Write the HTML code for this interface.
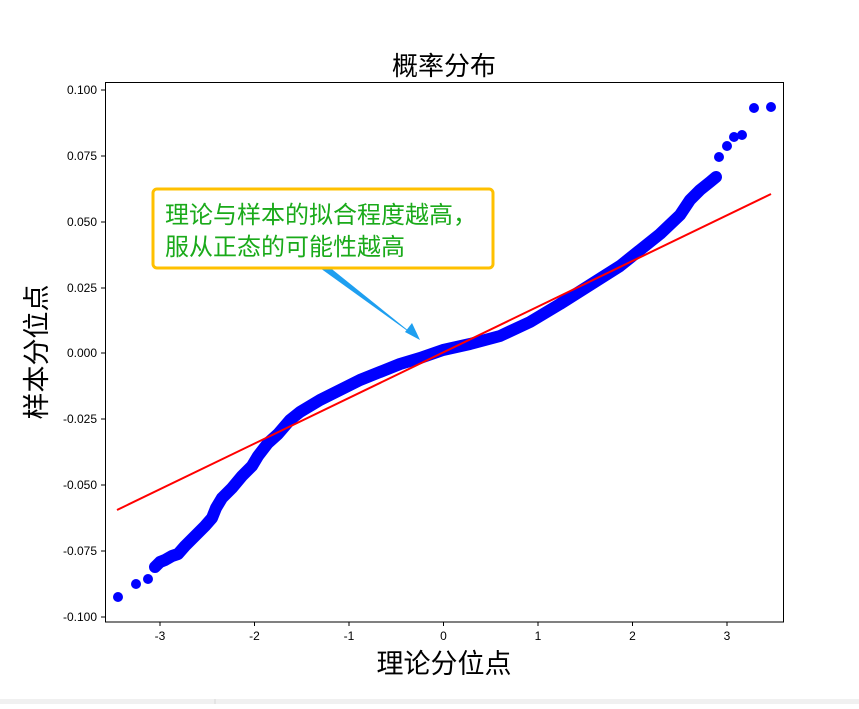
<!DOCTYPE html>
<html><head><meta charset="utf-8"><style>
body{margin:0;width:859px;height:704px;background:#fff;overflow:hidden;font-family:"Liberation Sans","Noto Sans CJK SC",sans-serif}
</style></head><body>
<svg width="859" height="704" xmlns="http://www.w3.org/2000/svg" font-family="Liberation Sans, Noto Sans CJK SC, sans-serif">
<rect x="0" y="699" width="859" height="5" fill="#f0f0f0"/>
<line x1="215" y1="699" x2="215" y2="704" stroke="#d8d8d8"/>
<text x="444" y="75" font-size="26" text-anchor="middle">概率分布</text>
<g stroke="#0000ff" stroke-width="12" fill="none" stroke-linecap="round" stroke-linejoin="round">
<polyline points="155,567 160,562 165,560 172,556 178,554 185,546 195,536 205,526 212,518 216,508 222,498 232,488 242,476 252,466 258,456 268,443 278,434 290,420 300,412 320,400 340,390 360,380 380,372 400,364 420,358 443,350 470,344 500,336 530,322 560,304 590,285 620,266 640,250 660,234 680,215 690,200 700,190 710,182 716,177"/>
</g>
<g fill="#0000ff">
<circle cx="118" cy="597" r="5"/><circle cx="136" cy="584" r="5"/><circle cx="148" cy="579" r="5"/>
<circle cx="719" cy="157" r="5"/><circle cx="727" cy="146" r="5"/><circle cx="734" cy="137" r="5"/><circle cx="742" cy="135" r="5"/><circle cx="754" cy="108" r="5"/><circle cx="771" cy="107" r="5"/>
</g>
<line x1="117" y1="510" x2="771" y2="194" stroke="#ff0000" stroke-width="2"/>
<rect x="105.5" y="82.5" width="678" height="539.5" fill="none" stroke="#000" stroke-width="1"/>
<g stroke="#000">
<line x1="101" y1="90" x2="105" y2="90"/><line x1="101" y1="156" x2="105" y2="156"/><line x1="101" y1="222" x2="105" y2="222"/><line x1="101" y1="288" x2="105" y2="288"/><line x1="101" y1="353" x2="105" y2="353"/><line x1="101" y1="419" x2="105" y2="419"/><line x1="101" y1="485" x2="105" y2="485"/><line x1="101" y1="551" x2="105" y2="551"/><line x1="101" y1="617" x2="105" y2="617"/>
</g>
<g font-size="12" text-anchor="end">
<text x="97" y="94">0.100</text><text x="97" y="160">0.075</text><text x="97" y="226">0.050</text><text x="97" y="292">0.025</text><text x="97" y="357">0.000</text><text x="97" y="423">-0.025</text><text x="97" y="489">-0.050</text><text x="97" y="555">-0.075</text><text x="97" y="621">-0.100</text>
</g>
<g stroke="#000"><line x1="160" y1="622" x2="160" y2="626"/><line x1="254.5" y1="622" x2="254.5" y2="626"/><line x1="349" y1="622" x2="349" y2="626"/><line x1="443.5" y1="622" x2="443.5" y2="626"/><line x1="538" y1="622" x2="538" y2="626"/><line x1="632.5" y1="622" x2="632.5" y2="626"/><line x1="727" y1="622" x2="727" y2="626"/></g>
<g font-size="12" text-anchor="middle">
<text x="160" y="640">-3</text><text x="254.5" y="640">-2</text><text x="349" y="640">-1</text><text x="443.5" y="640">0</text><text x="538" y="640">1</text><text x="632.5" y="640">2</text><text x="727" y="640">3</text>
</g>
<text x="444" y="673" font-size="27" text-anchor="middle">理论分位点</text>
<text transform="translate(46,352) rotate(-90)" font-size="27" text-anchor="middle">样本分位点</text>
<polygon points="320,268 328,266 420,340" fill="#1e9ff0"/>
<polygon points="405,332 420,340 412,323" fill="#1e9ff0"/>
<rect x="153" y="189" width="340" height="79" rx="4" fill="#fff" stroke="#ffc000" stroke-width="3"/>
<text x="165" y="223" font-size="24" fill="#1aaa1a">理论与样本的拟合程度越高，</text>
<text x="165" y="255" font-size="24" fill="#1aaa1a">服从正态的可能性越高</text>
</svg>
</body></html>
